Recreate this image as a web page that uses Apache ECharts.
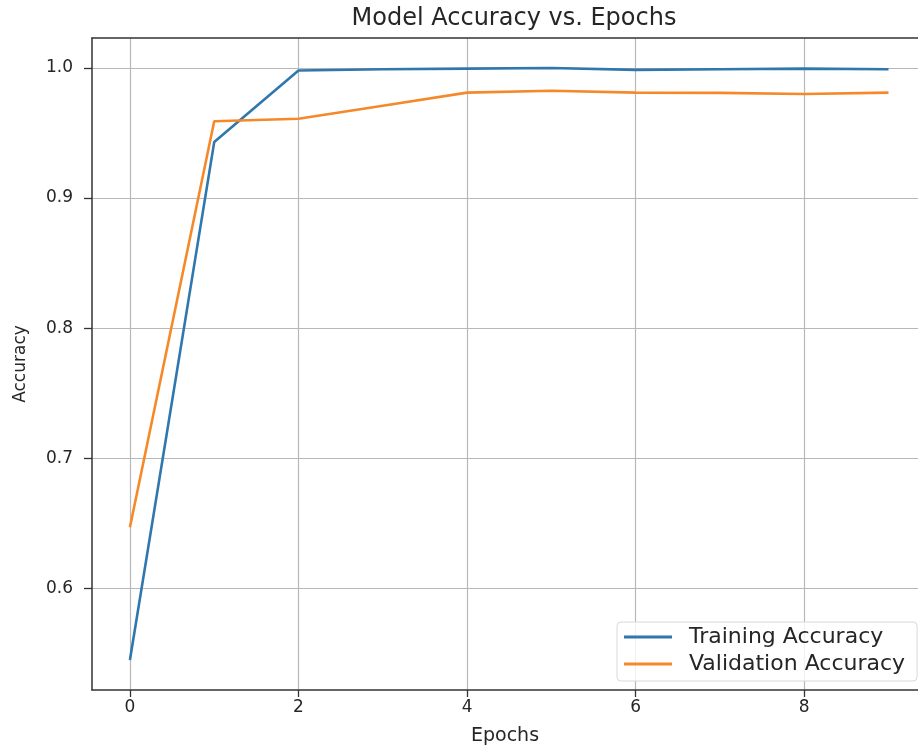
<!DOCTYPE html>
<html>
<head>
<meta charset="utf-8">
<script src="https://cdn.jsdelivr.net/npm/echarts@6/dist/echarts.min.js"></script>
<style>
  html, body { margin: 0; padding: 0; background: #fff; }
  #chart { width: 918px; height: 751px; }
</style>
</head>
<body>
<div id="chart"></div>
<script>
const epochs = [0, 1, 2, 3, 4, 5, 6, 7, 8, 9];
const trainAcc = [0.545, 0.943, 0.998, 0.999, 0.9995, 1.0, 0.9985, 0.999, 0.9995, 0.999];
const valAcc = [0.647, 0.959, 0.961, 0.971, 0.981, 0.9825, 0.981, 0.9808, 0.980, 0.981];
const xTicks = [0, 2, 4, 6, 8];
const yTicks = [0.6, 0.7, 0.8, 0.9, 1.0];

const font = "DejaVu Sans";
const textColor = "#262626";
const spineColor = "#333";
const gridColor = "#b8b8b8";

// the reference is cropped on the right, so the x range stops short of 9.45
const xMin = -0.45;
const xMax = 9.35;

const chart = echarts.init(document.getElementById("chart"));

chart.setOption({
  animation: false,
  backgroundColor: "#fff",
  textStyle: { fontFamily: font },
  title: {
    text: "Model Accuracy vs. Epochs",
    left: 509,
    top: 2,
    textAlign: "center",
    textStyle: { fontFamily: font, fontSize: 24, fontWeight: "normal", color: textColor }
  },
  grid: { left: 92, right: 0, top: 38, bottom: 60 },
  legend: {
    left: 617,
    top: 622,
    orient: "vertical",
    padding: [4, 12, 6, 7],
    itemGap: 5,
    itemWidth: 48,
    itemHeight: 3,
    icon: "rect",
    backgroundColor: "rgba(255,255,255,0.8)",
    borderColor: "#d8d8d8",
    borderWidth: 1,
    borderRadius: 4,
    textStyle: { fontFamily: font, fontSize: 22, color: textColor, padding: [0, 0, 0, 12] },
    data: ["Training Accuracy", "Validation Accuracy"]
  },
  xAxis: [
    {
      type: "value",
      min: xMin,
      max: xMax,
      name: "Epochs",
      nameLocation: "middle",
      nameGap: 37,
      nameTextStyle: { fontFamily: font, fontSize: 19, color: textColor },
      axisLine: { show: true, onZero: false, lineStyle: { color: spineColor, width: 1.5 } },
      axisTick: { show: true, length: 7, customValues: xTicks, lineStyle: { color: spineColor, width: 1.3 } },
      axisLabel: { customValues: xTicks, margin: 9, fontFamily: font, fontSize: 17, color: textColor },
      splitLine: { show: true, lineStyle: { color: gridColor, width: 1.2 } }
    },
    {
      // top spine only
      type: "value",
      position: "top",
      min: xMin,
      max: xMax,
      axisLine: { show: true, onZero: false, lineStyle: { color: spineColor, width: 1.5 } },
      axisTick: { show: false },
      axisLabel: { show: false },
      splitLine: { show: false }
    }
  ],
  yAxis: {
    type: "value",
    min: 0.522,
    max: 1.023,
    name: "Accuracy",
    nameLocation: "middle",
    nameGap: 63,
    nameRotate: 90,
    nameTextStyle: { fontFamily: font, fontSize: 17, color: textColor },
    axisLine: { show: true, onZero: false, lineStyle: { color: spineColor, width: 1.5 } },
    axisTick: { show: true, length: 8, customValues: yTicks, lineStyle: { color: spineColor, width: 1.3 } },
    axisLabel: {
      customValues: yTicks,
      margin: 19,
      fontFamily: font,
      fontSize: 17,
      color: textColor,
      formatter: v => v.toFixed(1)
    },
    splitLine: { show: true, lineStyle: { color: gridColor, width: 1.2 } }
  },
  series: [
    {
      name: "Training Accuracy",
      type: "line",
      xAxisIndex: 0,
      data: epochs.map((e, i) => [e, trainAcc[i]]),
      showSymbol: false,
      lineStyle: { color: "#2f77ad", width: 2.6 },
      itemStyle: { color: "#2f77ad" }
    },
    {
      name: "Validation Accuracy",
      type: "line",
      xAxisIndex: 0,
      data: epochs.map((e, i) => [e, valAcc[i]]),
      showSymbol: false,
      lineStyle: { color: "#f5892a", width: 2.6 },
      itemStyle: { color: "#f5892a" }
    }
  ]
});
</script>
</body>
</html>
